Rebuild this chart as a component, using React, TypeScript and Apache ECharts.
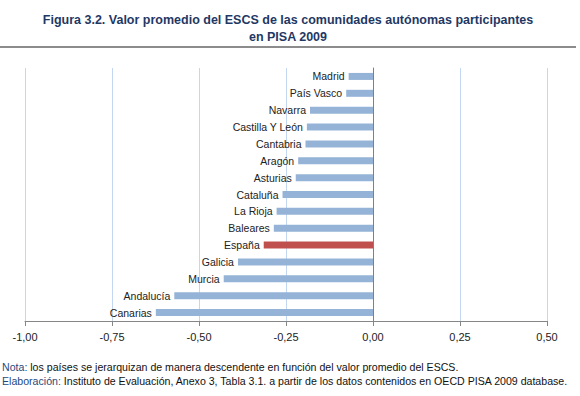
import React, { useEffect, useRef } from "react";
import * as echarts from "echarts";

const categories = [
  "Madrid", "País Vasco", "Navarra", "Castilla Y León", "Cantabria", "Aragón", "Asturias",
  "Cataluña", "La Rioja", "Baleares", "España", "Galicia", "Murcia", "Andalucía", "Canarias",
];
const values = [
  -0.07, -0.077, -0.181, -0.19, -0.194, -0.215, -0.222,
  -0.26, -0.277, -0.285, -0.314, -0.388, -0.429, -0.571, -0.624,
];
const highlight = "España";
const titleLines = [
  "Figura 3.2. Valor promedio del ESCS de las comunidades autónomas participantes",
  "en PISA 2009",
];
const noteLabel = "Nota:";
const noteText = "los países se jerarquizan de manera descendente en función del valor promedio del ESCS.";
const sourceLabel = "Elaboración:";
const sourceText = "Instituto de Evaluación, Anexo 3, Tabla 3.1. a partir de los datos contenidos en OECD PISA 2009 database.";

const FONT = "'Liberation Sans', Arial, sans-serif";

export default function App() {
  const ref = useRef<HTMLDivElement>(null);
  useEffect(() => {
    if (!ref.current) return;
    const chart = echarts.init(ref.current, undefined, { renderer: "svg" });
    const rich = {
      a: { color: "#1f497d", fontSize: 10.6, fontWeight: "normal", fontFamily: FONT },
      b: { color: "#111111", fontSize: 10.6, fontWeight: "normal", fontFamily: FONT },
    };
    chart.setOption({
      animation: false,
      backgroundColor: "#ffffff",
      textStyle: { fontFamily: FONT },
      grid: { left: 25, right: 33, top: 68, bottom: 75, containLabel: false },
      xAxis: {
        type: "value",
        min: -1,
        max: 0.5,
        interval: 0.25,
        axisLine: { show: true, lineStyle: { color: "#868686", width: 1 } },
        axisTick: { show: true, length: 5, lineStyle: { color: "#868686" } },
        axisLabel: {
          color: "#222222",
          fontSize: 11,
          fontFamily: FONT,
          margin: 10,
          formatter: (v: number) => v.toFixed(2).replace(".", ","),
        },
        splitLine: { show: true, lineStyle: { color: "#c3d7f2", width: 1 } },
      },
      yAxis: {
        type: "category",
        data: categories,
        inverse: true,
        axisLine: { show: true, onZero: true, lineStyle: { color: "#808080", width: 1 } },
        axisTick: { show: false },
        axisLabel: { show: false },
        splitLine: { show: false },
      },
      series: [
        {
          type: "bar",
          barWidth: 7,
          data: values.map((v, i) => ({
            value: v,
            itemStyle: { color: categories[i] === highlight ? "#c0504d" : "#95b3d7" },
          })),
          label: {
            show: true,
            position: "left",
            distance: 4,
            formatter: "{b}",
            color: "#222222",
            fontSize: 10.5,
            fontFamily: FONT,
          },
        },
      ],
      title: [
        {
          text: titleLines.join("\n"),
          left: 288,
          top: 11,
          padding: 0,
          textAlign: "center",
          textStyle: {
            color: "#1f3864",
            fontSize: 12.5,
            fontWeight: "bold",
            fontFamily: FONT,
            lineHeight: 17,
          },
        },
        {
          text: `{a|${noteLabel}}{b| ${noteText}}`,
          left: 2,
          top: 361,
          padding: 0,
          textStyle: { fontWeight: "normal", fontSize: 10.6, rich },
        },
        {
          text: `{a|${sourceLabel}}{b| ${sourceText}}`,
          left: 2,
          top: 375,
          padding: 0,
          textStyle: { fontWeight: "normal", fontSize: 10.6, rich },
        },
      ],
      graphic: [
        {
          type: "line",
          shape: { x1: 0, y1: 47, x2: 576, y2: 47 },
          style: { stroke: "#8c8c8c", lineWidth: 2 },
        },
      ],
    });
    return () => chart.dispose();
  }, []);
  return (
    <div
      ref={ref}
      style={{ width: 580, height: 396, position: "absolute", left: 0, top: 0 }}
    />
  );
}
